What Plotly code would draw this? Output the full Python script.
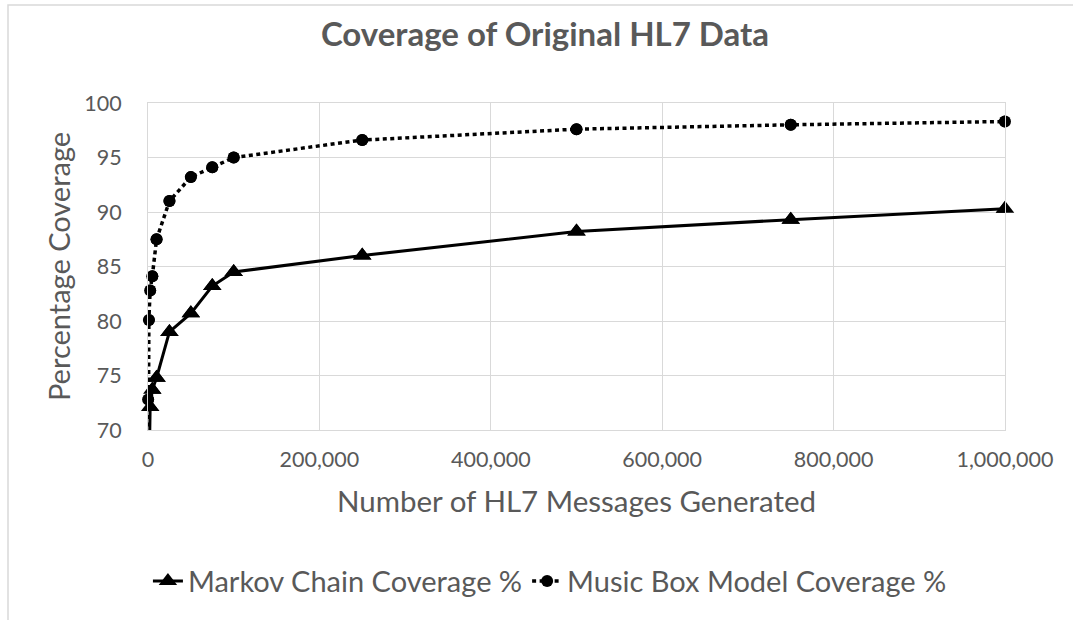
import plotly.graph_objects as go

# Data
markov_x = [100, 2500, 5000, 10000, 25000, 50000, 75000, 100000, 250000, 500000, 750000, 1000000]
markov_y = [60.0, 72.1, 73.7, 74.8, 79.0, 80.7, 83.2, 84.5, 86.0, 88.2, 89.3, 90.3]

music_x = [10, 100, 1000, 2500, 5000, 10000, 25000, 50000, 75000, 100000, 250000, 500000, 750000, 1000000]
music_y = [60.0, 72.8, 80.1, 82.8, 84.1, 87.5, 91.0, 93.2, 94.1, 95.0, 96.6, 97.6, 98.0, 98.3]

x_ticks = [0, 200000, 400000, 600000, 800000, 1000000]
y_ticks = [70, 75, 80, 85, 90, 95, 100]
Y_MIN, Y_MAX = 70, 100

FONT = "Lato"
GRAY = "#595959"
GRID = "#d9d9d9"

fig = go.Figure()

fig.add_trace(go.Scatter(
    x=markov_x, y=markov_y, name="Markov Chain Coverage %",
    mode="lines+markers",
    line=dict(color="black", width=3),
    marker=dict(symbol="triangle-up", size=16, color="black"),
))
fig.add_trace(go.Scatter(
    x=music_x, y=music_y, name="Music Box Model Coverage %",
    mode="lines+markers",
    line=dict(color="black", width=3.5, dash="4px,3.5px"),
    marker=dict(symbol="circle", size=12, color="black"),
))

# unclipped markers for points inside the value range (so edge markers are whole)
mx = [x for x, y in zip(markov_x, markov_y) if y >= Y_MIN]
my = [y for y in markov_y if y >= Y_MIN]
cx = [x for x, y in zip(music_x, music_y) if y >= Y_MIN]
cy = [y for y in music_y if y >= Y_MIN]
fig.add_trace(go.Scatter(x=mx, y=my, mode="markers", showlegend=False, cliponaxis=False,
                         marker=dict(symbol="triangle-up", size=16, color="black"), hoverinfo="skip"))
fig.add_trace(go.Scatter(x=cx, y=cy, mode="markers", showlegend=False, cliponaxis=False,
                         marker=dict(symbol="circle", size=12, color="black"), hoverinfo="skip"))

fig.update_layout(
    width=1073, height=620,
    paper_bgcolor="white", plot_bgcolor="white",
    margin=dict(l=148, r=68, t=103, b=190),
    font=dict(family=FONT, color=GRAY, size=21),
    title=dict(text="<b>Coverage of Original HL7 Data</b>", x=545 / 1073, xanchor="center",
               xref="container", y=1 - 34 / 620, yanchor="middle", yref="container",
               font=dict(family=FONT, size=33, color=GRAY)),
    showlegend=True,
    legend=dict(orientation="h", x=0.469, xanchor="center", y=-0.462, yanchor="middle",
                font=dict(family=FONT, size=29, color=GRAY),
                traceorder="normal"),
    shapes=[dict(type="rect", xref="paper", yref="paper",
                 x0=(8 - 148) / 857, x1=(1085 - 148) / 857,
                 y0=(430 - 640) / 327, y1=(430 - 5) / 327,
                 line=dict(color=GRID, width=1.5), layer="below")],
)

fig.update_xaxes(
    range=[0, 1000000], tickvals=x_ticks, tickformat=",d",
    showgrid=True, gridcolor=GRID, gridwidth=1,
    showline=True, linecolor=GRID, linewidth=1, mirror=True,
    zeroline=False, ticks="", ticklabelstandoff=10,
    tickfont=dict(family=FONT, size=21.5, color=GRAY),
    title=dict(text="Number of HL7 Messages Generated", standoff=20,
               font=dict(family=FONT, size=29.5, color=GRAY)),
)
fig.update_yaxes(
    range=[Y_MIN, Y_MAX], tickvals=y_ticks,
    showgrid=True, gridcolor=GRID, gridwidth=1,
    showline=True, linecolor=GRID, linewidth=1, mirror=True,
    zeroline=False, ticks="", ticklabelstandoff=21,
    tickfont=dict(family=FONT, size=21.5, color=GRAY),
    title=dict(text="Percentage Coverage", standoff=5,
               font=dict(family=FONT, size=29, color=GRAY)),
)

fig.write_html("out.html", config={"displayModeBar": False},
               post_script="document.body.style.margin='0';")
